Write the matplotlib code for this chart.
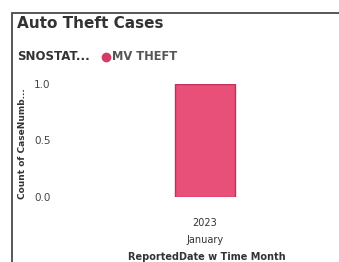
import matplotlib
matplotlib.use("Agg")
import matplotlib.pyplot as plt
from matplotlib.lines import Line2D

categories = ["2023\nJanuary"]
values = [1]
yticks = [0.0, 0.5, 1.0]
ytick_labels = ["0.0", "0.5", "1.0"]

W, H = 339, 262
fig = plt.figure(figsize=(W/100, H/100), dpi=100)
fig.patch.set_facecolor("white")

# frame: left edge and top edge as one polyline
BX, BY = 11.5, 12.5
fig.add_artist(Line2D([BX/W, BX/W, 1.02], [-0.02, 1 - BY/H, 1 - BY/H],
                      color="#4a4a4a", lw=1.3, solid_joinstyle="miter"))

fig.text(17/W, 1 - 23/H, "Auto Theft Cases", fontsize=11, fontweight="bold",
         color="#333333", va="center", ha="left")
fig.text(17/W, 1 - 57/H, "SNOSTAT...", fontsize=8.5, fontweight="bold",
         color="#333333", va="center", ha="left")
fig.add_artist(Line2D([106/W], [1 - 57/H], marker="o", markersize=6,
                      color="#D63A66", lw=0))
fig.text(112/W, 1 - 57/H, "MV THEFT", fontsize=8.3, fontweight="bold",
         color="#555555", va="center", ha="left")

ax_left, ax_right = 73, 337
ax_bottom, ax_top = 197, 84
ax = fig.add_axes([ax_left/W, 1 - ax_bottom/H, (ax_right-ax_left)/W, (ax_bottom-ax_top)/H])
x = list(range(len(categories)))
ax.bar(x, values, width=60/(ax_right-ax_left), color="#E8507A", edgecolor="#C42E5A",
       linewidth=1.0)
ax.set_xlim(-0.5, 0.5)
ax.set_ylim(0, 1)
ax.set_yticks(yticks)
ax.set_yticklabels(ytick_labels, fontsize=7.5, color="#444444")
ax.set_xticks(x)
ax.set_xticklabels(categories, fontsize=7, color="#333333", linespacing=1.9)
ax.tick_params(length=0, pad=16, axis="y")
ax.tick_params(length=0, pad=15, axis="x")
for s in ax.spines.values():
    s.set_visible(False)
ax.set_facecolor("white")

fig.text(207/W, 1 - 257/H, "ReportedDate w Time Month", fontsize=7, fontweight="bold",
         color="#333333", ha="center", va="center")
fig.text(23/W, 1 - 144/H, "Count of CaseNumb...", fontsize=6.5, fontweight="bold",
         color="#333333", ha="center", va="center", rotation=90)

fig.savefig("out.png", dpi=100, facecolor="white")
